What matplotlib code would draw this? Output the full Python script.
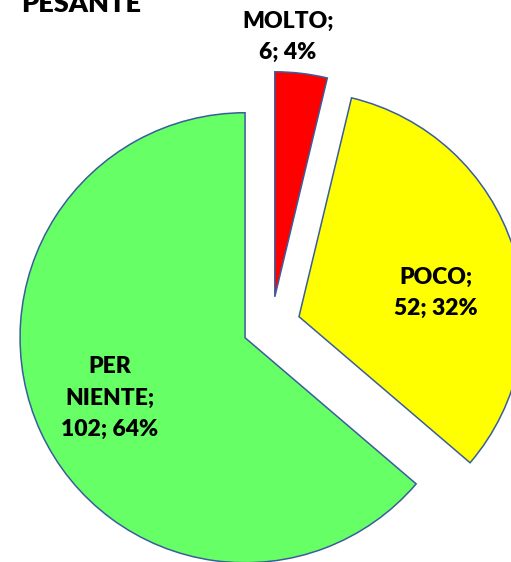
import matplotlib.pyplot as plt

# chart data
categories = ['MOLTO', 'POCO', 'PER NIENTE']
counts = [6, 52, 102]
colors = ['#FF0000', '#FFFF00', '#66FF66']
title = 'PESANTE'

# label centres in pixels from the top-left corner (layout only)
label_pos = [(288, 37), (436, 293), (110, 398)]

W, H = 511, 562
fig = plt.figure(figsize=(W / 100, H / 100), dpi=100)
ax = fig.add_axes([0, 0, 1, 1])

ax.pie(counts, colors=colors, explode=[29] * len(counts), startangle=90,
       counterclock=False, radius=225, center=(271.4, H - 325.6),
       wedgeprops=dict(edgecolor='#3A5D9C', linewidth=1.1))
ax.set_xlim(0, W)
ax.set_ylim(0, H)
ax.set_aspect('equal')
ax.axis('off')

total = sum(counts)
for cat, val, (px, py) in zip(categories, counts, label_pos):
    pct = round(val / total * 100)
    txt = cat.replace(' ', '\n') + ';\n' + str(val) + '; ' + str(pct) + '%'
    ax.text(px, H - py, txt, ha='center', va='center', fontsize=16.5,
            fontweight='heavy', family='Lato', linespacing=1.6)

ax.text(21, H - 12, title, ha='left', va='baseline', fontsize=19.5,
        fontweight='heavy', family='Lato')

fig.savefig('out.png', dpi=100)
